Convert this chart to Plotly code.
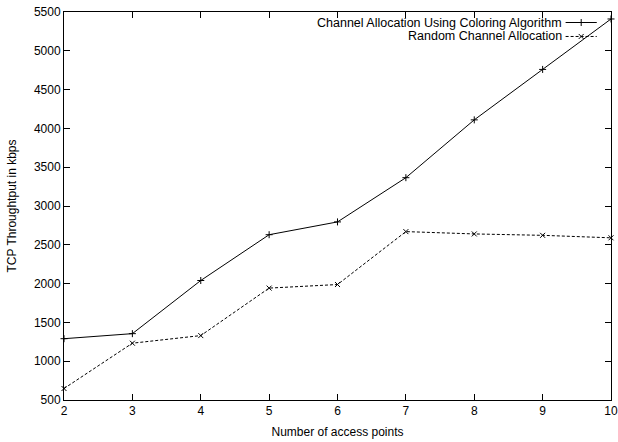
import plotly.graph_objects as go

access_points = [2, 3, 4, 5, 6, 7, 8, 9, 10]
coloring = [1290, 1355, 2040, 2630, 2795, 3365, 4110, 4760, 5410]
random_alloc = [648, 1232, 1330, 1942, 1988, 2670, 2640, 2622, 2590]
series_names = ["Channel Allocation Using Coloring Algorithm", "Random Channel Allocation"]
x_ticks = [2, 3, 4, 5, 6, 7, 8, 9, 10]
y_ticks = [500, 1000, 1500, 2000, 2500, 3000, 3500, 4000, 4500, 5000, 5500]

FONT = "Liberation Sans, Arial, Helvetica, sans-serif"
BLACK = "black"
MSIZE = 5

fig = go.Figure()
fig.add_trace(go.Scatter(
    x=access_points, y=coloring, mode="lines+markers", name=series_names[0],
    line=dict(color=BLACK, width=1),
    marker=dict(symbol="cross-thin-open", size=MSIZE, color=BLACK, line=dict(color=BLACK, width=1)),
    showlegend=False, cliponaxis=False))
fig.add_trace(go.Scatter(
    x=access_points, y=random_alloc, mode="lines+markers", name=series_names[1],
    line=dict(color=BLACK, width=1, dash="3px,2px"),
    marker=dict(symbol="x-thin-open", size=MSIZE, color=BLACK, line=dict(color=BLACK, width=1)),
    showlegend=False, cliponaxis=False))

# gnuplot-style key: text right-aligned, line sample to its right (on an overlay 0..1 axis)
leg_y = [0.9729, 0.9369]
fig.add_trace(go.Scatter(x=[0.917, 0.974], y=[leg_y[0]] * 2, mode="lines", xaxis="x2", yaxis="y2",
                         line=dict(color=BLACK, width=1), showlegend=False, hoverinfo="skip"))
fig.add_trace(go.Scatter(x=[0.9455], y=[leg_y[0]], mode="markers", xaxis="x2", yaxis="y2",
                         marker=dict(symbol="cross-thin-open", size=MSIZE, color=BLACK, line=dict(color=BLACK, width=1)),
                         showlegend=False, hoverinfo="skip"))
fig.add_trace(go.Scatter(x=[0.917, 0.974], y=[leg_y[1]] * 2, mode="lines", xaxis="x2", yaxis="y2",
                         line=dict(color=BLACK, width=1, dash="3px,2px"), showlegend=False, hoverinfo="skip"))
fig.add_trace(go.Scatter(x=[0.9455], y=[leg_y[1]], mode="markers", xaxis="x2", yaxis="y2",
                         marker=dict(symbol="x-thin-open", size=MSIZE, color=BLACK, line=dict(color=BLACK, width=1)),
                         showlegend=False, hoverinfo="skip"))
for name, yy in zip(series_names, leg_y):
    fig.add_annotation(x=0.912, y=yy, xref="paper", yref="paper", text=name, showarrow=False,
                       xanchor="right", yanchor="middle", borderpad=0,
                       font=dict(size=12.5, color=BLACK, family=FONT))

axis_common = dict(showline=True, linecolor=BLACK, linewidth=1, mirror="ticks", automargin=False,
                   ticks="inside", ticklen=6, tickcolor=BLACK, showgrid=False, zeroline=False,
                   ticklabeloverflow="allow",
                   tickfont=dict(size=12, color=BLACK, family=FONT))
fig.update_layout(
    width=618, height=442,
    margin=dict(l=64, r=7, t=12, b=42),
    paper_bgcolor="white", plot_bgcolor="white",
    font=dict(family=FONT, size=12, color=BLACK),
    xaxis=dict(range=[2, 10], tickvals=x_ticks, title=dict(text="Number of access points", standoff=10,
               font=dict(size=12, family=FONT)), **axis_common),
    yaxis=dict(range=[500, 5500], tickvals=y_ticks, title=dict(text="TCP Throughtput in kbps", standoff=14,
               font=dict(size=12, family=FONT)), **axis_common),
    xaxis2=dict(overlaying="x", range=[0, 1], visible=False, fixedrange=True),
    yaxis2=dict(overlaying="y", range=[0, 1], visible=False, fixedrange=True),
)
# remove the browser's default 8px body margin so the figure fills the window exactly
fig.write_html("out.html",
               config={"displayModeBar": False},
               post_script="document.body.style.margin='0';document.body.style.overflow='hidden';")
